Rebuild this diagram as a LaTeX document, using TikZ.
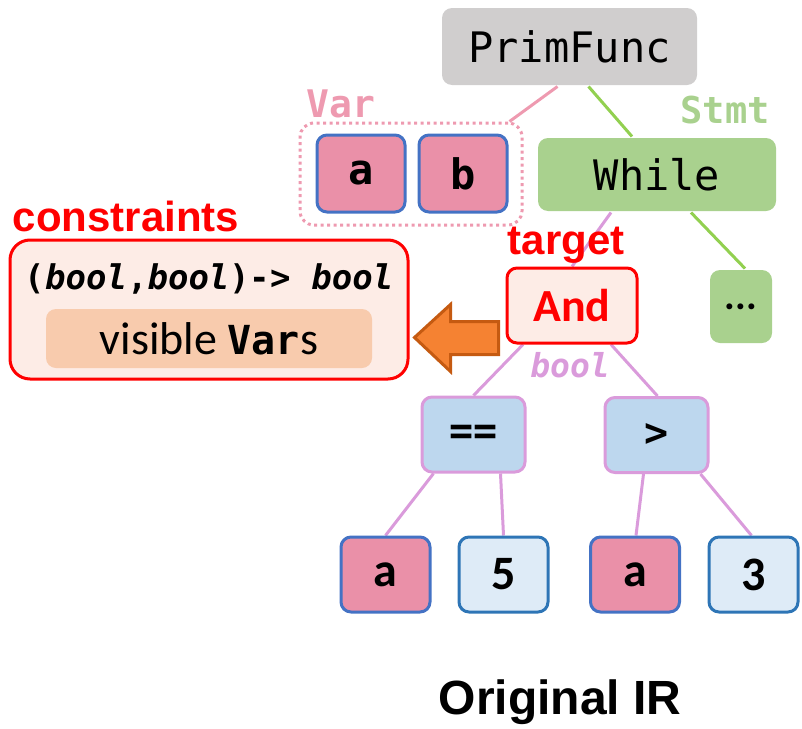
\documentclass[tikz,border=0pt]{standalone}
\usepackage{fontspec}
\usetikzlibrary{backgrounds}
\newfontfamily\monof{DejaVu Sans Mono}
\newfontfamily\arialf{Liberation Sans}
\newfontfamily\calf{Carlito}
\definecolor{gfill}{HTML}{D0CECE}
\definecolor{varpink}{HTML}{EA90A8}
\definecolor{varlbl}{HTML}{EE9AB0}
\definecolor{vblue}{HTML}{4472C4}
\definecolor{stmtg}{HTML}{A9D18E}
\definecolor{lineg}{HTML}{92D050}
\definecolor{viol}{HTML}{DA9BDB}
\definecolor{opblue}{HTML}{BDD7EE}
\definecolor{cblue}{HTML}{DEEBF7}
\definecolor{cborder}{HTML}{2E75B6}
\definecolor{redfill}{HTML}{FDECE6}
\definecolor{peach}{HTML}{F8CBAD}
\definecolor{orangef}{HTML}{F58232}
\definecolor{oranged}{HTML}{C55A11}
\newcommand{\fsz}[1]{\fontsize{#1}{#1}\selectfont}
\tikzset{
  box/.style={rounded corners=10pt, inner sep=0pt, line width=3pt},
  varbox/.style={box, draw=vblue, fill=varpink, minimum width=88pt, minimum height=77pt,
    font=\monof\bfseries\fsz{42}},
  constbox/.style={box, draw=cborder, fill=cblue, minimum width=89pt, minimum height=75pt,
    font=\calf\bfseries\fsz{48}},
  opbox/.style={box, draw=viol, fill=opblue, minimum width=103pt, minimum height=75pt,
    font=\monof\bfseries\fsz{40}},
  edge/.style={line width=3pt},
  lbl/.style={inner sep=0pt}
}
\begin{document}
\begin{tikzpicture}[x=1pt,y=-1pt]
\useasboundingbox (0,0) rectangle (802,728);

% top level: function, params, body
\node[box, fill=gfill, minimum width=255pt, minimum height=77pt, font=\monof\fsz{42}]
  (prim) at (569.5,46.5) {PrimFunc};
\node[lbl, text=varlbl, font=\monof\bfseries\fsz{38}] (varlbl) at (341,104) {Var};
\node[box, draw=varlbl, dash pattern=on 3pt off 3.5pt, minimum width=222pt, minimum height=102pt,
  rounded corners=14pt] (vargrp) at (411,174) {};
\node[varbox] (va) at (361,173.5) {a};
\node[varbox] (vb) at (463,173.5) {b};
\node[lbl, text=stmtg, font=\monof\bfseries\fsz{37}] (stmtlbl) at (725,110) {Stmt};
\node[box, fill=stmtg, minimum width=238pt, minimum height=73pt, font=\monof\fsz{42}]
  (while) at (657,174.5) {While};

% target node and the rest of the loop body
\node[box, draw=red, fill=redfill, minimum width=130pt, minimum height=75pt,
  text=red, font=\calf\bfseries\fsz{46}] (and) at (572,305.5) {And};
\node[box, fill=stmtg, minimum width=62pt, minimum height=73pt, font=\calf\bfseries\fsz{40}]
  (dots) at (741,306.5) {...};
\node[lbl, text=red, font=\arialf\bfseries\fsz{42}] (target) at (566,245) {target};
\node[lbl, text=viol, font=\monof\bfseries\itshape\fsz{33}] (booll) at (570,365) {bool};

% constraints panel
\node[lbl, text=red, font=\arialf\bfseries\fsz{42}] (conlbl) at (126,216) {constraints};
\node[box, draw=red, fill=redfill, rounded corners=20pt, minimum width=398pt, minimum height=139pt]
  (cons) at (209,309.5) {};
\node[lbl, font=\monof\bfseries\fsz{34}] (sig) at (209,278.5)
  {(\textit{bool},\textit{bool})-> \textit{bool}};
\node[box, fill=peach, minimum width=326pt, minimum height=59pt, font=\calf\fsz{46}]
  (vis) at (209,338.5) {visible {\monof\bfseries\fsz{40}Var}s};

% arrow from the target to its constraints
\draw[line width=3pt, draw=oranged, fill=orangef, line join=miter]
  ([xshift=-7pt,yshift=-16pt]and.west) -- ++(-48,0) -- ++(0,-17) -- ++(-36,33)
  -- ++(36,34) -- ++(0,-17) -- ++(48,0) -- cycle;

% operands
\node[opbox] (eq) at (473.5,434.5) {==};
\node[opbox] (gt) at (656.5,435) {>};
\node[varbox, minimum width=89pt, minimum height=75pt, font=\calf\bfseries\fsz{48}] (a1) at (385.5,574.5) {a};
\node[constbox] (five) at (503.5,574.5) {5};
\node[varbox, minimum width=89pt, minimum height=75pt, font=\calf\bfseries\fsz{48}] (a2) at (635,574.5) {a};
\node[constbox] (three) at (753.5,574.5) {3};

\node[lbl, font=\arialf\bfseries\fsz{48}] (title) at (560,702) {Original IR};

\begin{scope}[on background layer]
  \draw[edge, varlbl] ([xshift=-12pt]prim.south) -- ([xshift=-14pt]vargrp.north east);
  \draw[edge, lineg] ([xshift=19pt]prim.south) -- ([xshift=-25pt]while.north);
  \draw[edge, viol] ([xshift=-46pt]while.south) -- (and.north);
  \draw[edge, lineg] ([xshift=34pt]while.south) -- ([xshift=4pt]dots.north);
  \draw[edge, viol] ([xshift=-49pt]and.south) -- (eq.north);
  \draw[edge, viol] ([xshift=39pt]and.south) -- ([xshift=1pt]gt.north);
  \draw[edge, viol] ([xshift=-40pt]eq.south) -- (a1.north);
  \draw[edge, viol] ([xshift=27pt]eq.south) -- (five.north);
  \draw[edge, viol] ([xshift=-13pt]gt.south) -- ([xshift=1pt]a2.north);
  \draw[edge, viol] ([xshift=44pt]gt.south) -- ([xshift=-2pt]three.north);
\end{scope}
\end{tikzpicture}
\end{document}
